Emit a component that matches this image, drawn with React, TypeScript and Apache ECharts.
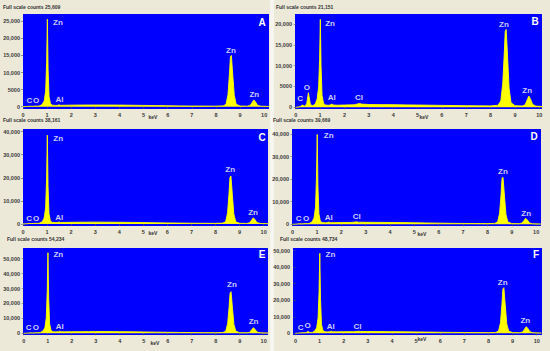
import React, { useEffect, useRef } from "react";
import * as echarts from "echarts";

// Energy grid (keV) shared by all spectra
const energy = [0, 0.1, 0.2, 0.28, 0.36, 0.45, 0.52, 0.6, 0.7, 0.8, 0.88, 0.94, 0.98, 1.01, 1.04, 1.08, 1.14, 1.22, 1.35, 1.44, 1.49, 1.55, 1.7, 2.0, 2.4, 2.55, 2.62, 2.7, 3.0, 3.5, 4.0, 4.5, 5.0, 5.5, 6.0, 6.5, 7.0, 7.5, 8.0, 8.3, 8.42, 8.5, 8.56, 8.6, 8.64, 8.7, 8.76, 8.84, 9.0, 9.3, 9.42, 9.5, 9.57, 9.64, 9.72, 9.85, 10.2];

const countsA = [0, 40, 90, 150, 110, 120, 200, 150, 250, 700, 1700, 4600, 13000, 25600, 11000, 3000, 900, 450, 380, 400, 550, 420, 420, 460, 480, 490, 500, 490, 500, 490, 470, 430, 380, 330, 280, 240, 200, 180, 170, 240, 700, 3600, 9600, 14600, 15000, 9000, 3300, 700, 200, 160, 380, 1250, 2000, 1400, 450, 160, 80];
const countsB = [0, 60, 250, 550, 250, 800, 3500, 700, 350, 800, 2000, 4900, 11500, 21100, 9800, 2900, 1000, 550, 480, 620, 780, 550, 500, 540, 600, 820, 920, 770, 660, 640, 620, 580, 540, 500, 460, 420, 380, 350, 340, 480, 1500, 5800, 12800, 18200, 18700, 11800, 4500, 1100, 380, 320, 620, 1750, 2700, 1950, 720, 290, 150];
const countsC = [0, 60, 150, 250, 180, 200, 300, 250, 400, 1000, 2600, 7000, 19500, 38500, 16500, 4400, 1300, 700, 640, 680, 850, 680, 680, 720, 770, 780, 790, 780, 800, 780, 740, 680, 600, 520, 450, 390, 340, 300, 280, 380, 1000, 4800, 13200, 20200, 20800, 12400, 4300, 950, 300, 250, 520, 1700, 2700, 1900, 620, 230, 120];
const countsD = [0, 60, 150, 280, 200, 250, 400, 300, 450, 1100, 2800, 7500, 20500, 39800, 17000, 4600, 1400, 750, 690, 780, 1000, 740, 730, 780, 830, 980, 1080, 930, 880, 850, 810, 750, 670, 590, 510, 440, 380, 340, 310, 400, 1050, 4900, 13300, 20300, 20800, 12500, 4400, 1000, 320, 270, 540, 1700, 2660, 1900, 640, 250, 130];
const countsE = [0, 80, 200, 350, 250, 300, 450, 350, 600, 1500, 3700, 10200, 28000, 54000, 23500, 6200, 1900, 1000, 950, 1050, 1450, 1000, 1000, 1050, 1100, 1120, 1130, 1120, 1150, 1130, 1080, 1000, 900, 780, 680, 580, 500, 450, 420, 540, 1450, 6600, 17800, 27100, 27900, 16600, 5800, 1350, 430, 370, 740, 2400, 3750, 2650, 900, 340, 180];
const countsF = [0, 80, 250, 400, 280, 500, 1100, 450, 550, 1350, 3300, 9200, 25000, 48400, 21000, 5500, 1650, 900, 850, 1000, 1250, 900, 900, 950, 1000, 1150, 1250, 1100, 1050, 1020, 980, 910, 820, 720, 630, 550, 480, 420, 400, 510, 1400, 6500, 17600, 26800, 27600, 16500, 5700, 1300, 430, 370, 780, 2550, 4000, 2800, 950, 350, 180];

// Peak annotations: [element, keV, counts]
const labelsA = [["Zn", 1.45, 24600], ["Zn", 8.62, 16600], ["Zn", 9.59, 3500], ["C", 0.26, 1760], ["O", 0.54, 1760], ["Al", 1.51, 2170]];
const labelsB = [["Zn", 1.41, 20160], ["Zn", 8.55, 19900], ["Zn", 9.5, 3980], ["C", 0.18, 2000], ["O", 0.46, 4800], ["Al", 1.48, 2300], ["Cl", 2.6, 2300]];
const labelsC = [["Zn", 1.46, 37100], ["Zn", 8.61, 23700], ["Zn", 9.56, 4900], ["C", 0.26, 2500], ["O", 0.54, 2500], ["Al", 1.51, 2900]];
const labelsD = [["Zn", 1.48, 39250], ["Zn", 8.64, 23300], ["Zn", 9.59, 4700], ["C", 0.25, 2500], ["O", 0.55, 2500], ["Al", 1.48, 3100], ["Cl", 2.63, 3400]];
const labelsE = [["Zn", 1.44, 52500], ["Zn", 8.68, 32400], ["Zn", 9.58, 7800], ["C", 0.21, 3750], ["O", 0.51, 3750], ["Al", 1.5, 4400]];
const labelsF = [["Zn", 1.45, 47400], ["Zn", 8.59, 30900], ["Zn", 9.53, 7600], ["C", 0.22, 3600], ["O", 0.51, 4800], ["Al", 1.46, 4000], ["Cl", 2.57, 4000]];

const panelLetters = ["A", "B", "C", "D", "E", "F"];
const fullScaleCounts = ["25,609", "21,151", "38,161", "39,669", "54,234", "48,734"];

const xTicks = [0, 1, 2, 3, 4, 5, 6, 7, 8, 9, 10];
const yTicksA = [0, 5000, 10000, 15000, 20000, 25000];
const yTicksB = [0, 5000, 10000, 15000, 20000];
const yTicksC = [0, 10000, 20000, 30000, 40000];
const yTicksD = [0, 10000, 20000, 30000, 40000];
const yTicksE = [0, 10000, 20000, 30000, 40000, 50000];
const yTicksF = [0, 10000, 20000, 30000, 40000, 50000];

const FONT = "Liberation Sans";

export default function App() {
  const ref = useRef<HTMLDivElement>(null);
  useEffect(() => {
    if (!ref.current) return;
    const chart = echarts.init(ref.current, null, { renderer: "svg" });

    const counts = [countsA, countsB, countsC, countsD, countsE, countsF];
    const labels = [labelsA, labelsB, labelsC, labelsD, labelsE, labelsF];
    const yTicks = [yTicksA, yTicksB, yTicksC, yTicksD, yTicksE, yTicksF];

    const grids = [
      { left: 23, top: 14, width: 246, height: 95 },
      { left: 295, top: 14, width: 247, height: 95 },
      { left: 23, top: 129, width: 245, height: 97 },
      { left: 292, top: 129, width: 249, height: 97 },
      { left: 23, top: 248, width: 245, height: 87 },
      { left: 293, top: 248, width: 249, height: 87 },
    ];
    const xRanges = [[0, 10.2], [-0.03, 10.11], [0, 10.18], [-0.025, 10.2], [-0.03, 10.18], [-0.1, 10.22]];
    const yRanges = [[-670, 27140], [-410, 22400], [-870, 41150], [-750, 42200], [-1140, 57150], [-1030, 51600]];
    const titlePos = [[3, 7], [276, 7], [3, 120], [273, 120], [7, 239], [280, 239]];
    const letterPos = [[262, 22], [535, 21], [262, 137], [534, 136], [262, 254], [536, 254]];
    const kevPos = [[153, 117], [424, 116.5], [153, 232.5], [422, 233.5], [155, 343], [422, 338.5]];

    const tickLabelStyle = { fontFamily: FONT, fontSize: 5.5, fontWeight: "bold", color: "#3a3a3a" };

    const graphic: any[] = [
      { type: "rect", shape: { x: 270, y: 0, width: 4, height: 351 }, style: { fill: "#F6F5EF" }, silent: true },
    ];
    for (let i = 0; i < 6; i++) {
      graphic.push({
        type: "text", x: titlePos[i][0], y: titlePos[i][1],
        style: { text: "Full scale counts " + fullScaleCounts[i], fill: "#333", font: `bold 5px "${FONT}"`, textVerticalAlign: "middle" },
      });
      graphic.push({
        type: "text", x: letterPos[i][0], y: letterPos[i][1],
        style: { text: panelLetters[i], fill: "#fff", font: `bold 10px "${FONT}"`, textAlign: "center", textVerticalAlign: "middle" },
        z: 100,
      });
      graphic.push({
        type: "text", x: kevPos[i][0], y: kevPos[i][1],
        style: { text: "keV", fill: "#333", font: `bold 5px "${FONT}"`, textAlign: "center", textVerticalAlign: "middle" },
      });
    }

    const option: any = {
      animation: false,
      backgroundColor: "#ECE9D8",
      grid: grids.map((g) => ({ ...g, show: true, backgroundColor: "#0000FF", borderWidth: 0, containLabel: false })),
      xAxis: grids.map((_, i) => ({
        type: "value", gridIndex: i, min: xRanges[i][0], max: xRanges[i][1],
        axisLine: { show: false }, splitLine: { show: false },
        axisTick: { show: true, length: 2, lineStyle: { color: "#555", width: 0.6 }, customValues: xTicks },
        axisLabel: { ...tickLabelStyle, margin: 3, customValues: xTicks, formatter: (v: number) => String(v) },
      })),
      yAxis: grids.map((_, i) => ({
        type: "value", gridIndex: i, min: yRanges[i][0], max: yRanges[i][1],
        axisLine: { show: false }, splitLine: { show: false },
        axisTick: { show: true, length: 2, lineStyle: { color: "#555", width: 0.6 }, customValues: yTicks[i] },
        axisLabel: {
          ...tickLabelStyle, margin: 3, customValues: yTicks[i],
          formatter: (v: number) => (v >= 10000 ? v.toLocaleString("en-US") : String(v)),
        },
      })),
      series: [
        ...counts.map((c, i) => ({
          type: "line", xAxisIndex: i, yAxisIndex: i, silent: true,
          data: energy.map((e, j) => [e, c[j]]),
          showSymbol: false, symbol: "none",
          lineStyle: { color: "#FFFF00", width: 0.9 },
          areaStyle: { color: "#FFFF00", opacity: 1 },
          z: 2,
        })),
        ...labels.map((l, i) => ({
          type: "scatter", xAxisIndex: i, yAxisIndex: i, silent: true,
          data: l.map((d) => [d[1], d[2], d[0]]),
          symbolSize: 1, itemStyle: { color: "rgba(0,0,0,0)" },
          label: {
            show: true, position: "inside", formatter: (p: any) => p.data[2],
            color: "#fff", fontFamily: FONT, fontWeight: "bold", fontSize: 8,
          },
          z: 5,
        })),
      ],
      graphic,
    };
    chart.setOption(option);
    return () => chart.dispose();
  }, []);
  return <div ref={ref} style={{ position: "fixed", left: 0, top: 0, width: 550, height: 351 }} />;
}
